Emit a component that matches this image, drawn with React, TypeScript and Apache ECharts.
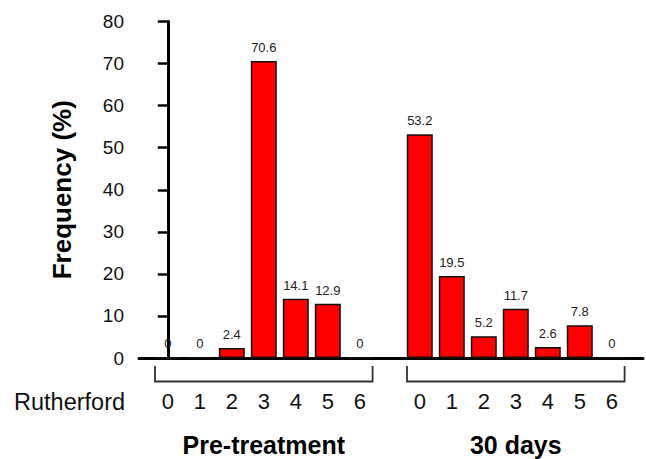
import React, { useEffect, useRef } from "react";
import * as echarts from "echarts";

const rutherford = ["0", "1", "2", "3", "4", "5", "6"];
const groupNames = ["Pre-treatment", "30 days"];
const preValues = [0, 0, 2.4, 70.6, 14.1, 12.9, 0];
const day30Values = [53.2, 19.5, 5.2, 11.7, 2.6, 7.8, 0];
const yTicks = { min: 0, max: 80, interval: 10 };

// layout constants (axis units)
const GROUP_OFFSET = 7.875;
const X_MIN = -0.9;
const X_MAX = 14.85;
const BRACKET_PAD = 0.4;
const FONT = "'Liberation Sans', Arial, Helvetica, sans-serif";

export default function App() {
  const ref = useRef<HTMLDivElement>(null);

  useEffect(() => {
    if (!ref.current) return;
    const chart = echarts.init(ref.current, null, { renderer: "svg" });

    const prePos = rutherford.map((_, i) => i);
    const postPos = rutherford.map((_, i) => i + GROUP_OFFSET);
    const allPos = [...prePos, ...postPos];
    const allLabels = [...rutherford, ...rutherford];

    const barData = [
      ...preValues.map((v, i) => [prePos[i], v]),
      ...day30Values.map((v, i) => [postPos[i], v]),
    ];

    const brackets = [
      [prePos[0] - BRACKET_PAD, prePos[prePos.length - 1] + BRACKET_PAD, 0],
      [postPos[0] - BRACKET_PAD, postPos[postPos.length - 1] + BRACKET_PAD, 1],
    ];

    chart.setOption({
      animation: false,
      grid: { left: 139, right: 3, top: 21.5, bottom: 101, containLabel: false },
      xAxis: {
        type: "value",
        min: X_MIN,
        max: X_MAX,
        splitLine: { show: false },
        axisTick: { show: false },
        axisLine: { show: true, onZero: false, lineStyle: { color: "#000", width: 3 } },
        axisLabel: {
          customValues: allPos,
          showMinLabel: true,
          showMaxLabel: true,
          margin: 32,
          fontSize: 22,
          fontFamily: FONT,
          color: "#111",
          formatter: (v: number) => {
            const idx = allPos.findIndex((p) => Math.abs(p - v) < 1e-6);
            return idx >= 0 ? allLabels[idx] : "";
          },
        },
      },
      yAxis: {
        type: "value",
        min: yTicks.min,
        max: yTicks.max,
        interval: yTicks.interval,
        name: "Frequency (%)",
        nameLocation: "middle",
        nameGap: 64,
        nameTextStyle: { fontSize: 26, fontWeight: "bold", fontFamily: FONT, color: "#000" },
        splitLine: { show: false },
        axisLine: { show: true, lineStyle: { color: "#000", width: 3 } },
        axisTick: { show: true, length: 10, lineStyle: { color: "#000", width: 2.5 } },
        axisLabel: { fontSize: 19, fontFamily: FONT, color: "#111", margin: 15 },
      },
      graphic: [
        {
          type: "text",
          x: 14,
          y: 402,
          style: {
            text: "Rutherford",
            fontSize: 23.5,
            fontFamily: FONT,
            fill: "#111",
            verticalAlign: "middle",
          },
        },
      ],
      series: [
        {
          type: "bar",
          data: barData,
          barWidth: 26,
          itemStyle: { color: "#ff0000", borderColor: "#111", borderWidth: 1.5 },
          label: {
            show: true,
            position: "top",
            distance: 7,
            fontSize: 13,
            fontFamily: FONT,
            color: "#222",
            formatter: (p: any) => String(p.value[1]),
          },
        },
        {
          type: "custom",
          clip: false,
          silent: true,
          encode: { x: [0, 1], y: 2 },
          data: brackets,
          renderItem: (params: any, api: any) => {
            const s = api.coord([api.value(0), 0]);
            const e = api.coord([api.value(1), 0]);
            const y0 = s[1];
            const name = groupNames[api.value(2)];
            return {
              type: "group",
              children: [
                {
                  type: "polyline",
                  shape: {
                    points: [
                      [s[0], y0 + 8],
                      [s[0], y0 + 23.5],
                      [e[0], y0 + 23.5],
                      [e[0], y0 + 8],
                    ],
                  },
                  style: { stroke: "#333", lineWidth: 1.8, fill: "none" },
                },
                {
                  type: "text",
                  x: (s[0] + e[0]) / 2,
                  y: y0 + 87,
                  style: {
                    text: name,
                    fontSize: 25,
                    fontWeight: "bold",
                    fontFamily: FONT,
                    fill: "#000",
                    align: "center",
                    verticalAlign: "middle",
                  },
                },
              ],
            };
          },
        },
      ],
    });

    return () => chart.dispose();
  }, []);

  return (
    <div
      ref={ref}
      style={{ position: "fixed", left: 0, top: 0, width: 646, height: 459, background: "#fff" }}
    />
  );
}
